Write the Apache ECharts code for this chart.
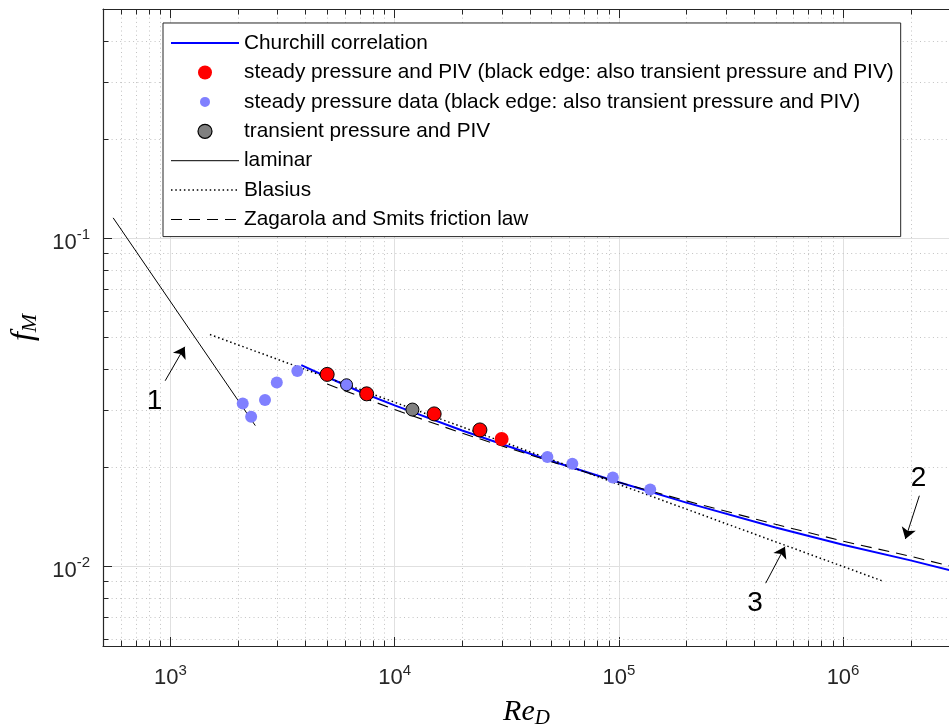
<!DOCTYPE html>
<html><head><meta charset="utf-8">
<script src="https://cdn.jsdelivr.net/npm/echarts@6/dist/echarts.min.js"></script>
<style>html,body{margin:0;padding:0;background:#fff}#c{width:949px;height:728px}</style>
</head><body><div id="c"></div>
<script>
// ---- data ----
const churchillRe = [3832, 5000, 7000, 10000, 20000, 50000, 100000, 200000, 500000, 1000000, 2000000, 3000000];
const churchillF  = [0.0410, 0.0377, 0.0340, 0.0309, 0.0259, 0.0209, 0.0180, 0.0156, 0.0131, 0.0116, 0.0104, 0.0097];

const redRe   = [5000, 7500, 15000, 24000, 30000];
const redF    = [0.0384, 0.0335, 0.0291, 0.0260, 0.0244];
const redAlsoTransient = [1, 1, 1, 1, 0];

const blueRe  = [2100, 2290, 2640, 2980, 3680, 6100, 48000, 62000, 94000, 138000];
const blueF   = [0.0313, 0.0285, 0.0321, 0.0363, 0.0393, 0.0357, 0.0215, 0.0205, 0.0186, 0.0171];
const blueAlsoTransient = [0, 0, 0, 0, 0, 1, 0, 0, 0, 0];

const grayRe  = [12000];
const grayF   = [0.0300];

const laminarRe = [555, 2390];
const laminarF  = [0.1153, 0.0268];

const blasiusRe = [1500, 1500000];
const blasiusF  = [0.0508, 0.0090];

const zsRe = [5000, 10000, 20000, 50000, 100000, 200000, 500000, 1000000, 2000000, 3000000];
const zsF  = [0.0359, 0.0300, 0.0254, 0.0208, 0.0180, 0.0158, 0.0134, 0.0119, 0.0107, 0.0100];

const seriesNames = [
  'Churchill correlation',
  'steady pressure and PIV (black edge: also transient pressure and PIV)',
  'steady pressure data (black edge: also transient pressure and PIV)',
  'transient pressure and PIV',
  'laminar',
  'Blasius',
  'Zagarola and Smits friction law'
];
const annotationTexts = ['1', '2', '3'];

const xMin = 500, xMax = 3e6, yMin = 0.0057, yMax = 0.5;

// ---- helpers ----
const zip = (a, b) => a.map((v, i) => [v, b[i]]);
function minorValues(lo, hi) {
  const out = [];
  for (let e = Math.floor(Math.log10(lo)); e <= Math.ceil(Math.log10(hi)); e++) {
    for (let m = 2; m <= 9; m++) {
      const v = m * Math.pow(10, e);
      if (v > lo * 1.0001 && v < hi * 0.9999) out.push(v);
    }
  }
  return out;
}
const xMinor = minorValues(xMin, xMax);
const yMinor = minorValues(yMin, yMax);

const AX = '#262626';
const FONT = 'Liberation Sans, Arial, Helvetica, sans-serif';
const SERIF = 'Liberation Serif, Times New Roman, serif';
const snap = v => Math.round(v) + 0.5;

const tickRich = {
  b: { fontSize: 22, fontFamily: FONT, color: AX, lineHeight: 30 },
  s: { fontSize: 15, fontFamily: FONT, color: AX, lineHeight: 18, verticalAlign: 'top' }
};
const powFmt = v => '{b|10}{s|' + Math.round(Math.log10(v)) + '}';

const scatterData = (xs, ys, flags) => xs.map((x, i) => flags && flags[i]
  ? { value: [x, ys[i]], itemStyle: { borderColor: '#000', borderWidth: 1 } }
  : { value: [x, ys[i]] });

const noSymbol = { color: 'rgba(0,0,0,0)', borderWidth: 0, opacity: 0 };

const chart = echarts.init(document.getElementById('c'), null, { renderer: 'canvas' });
chart.setOption({
  animation: false,
  backgroundColor: '#fff',
  grid: { left: 103, top: 9, width: 847, bottom: 82, containLabel: false, outerBoundsMode: 'none' },
  xAxis: [{
    type: 'log', min: xMin, max: xMax, position: 'bottom',
    axisLine: { show: true, lineStyle: { color: AX, width: 1.2 } },
    axisTick: { show: true, inside: true, length: 9, lineStyle: { color: AX, width: 1 } },
    axisLabel: { showMinLabel: false, showMaxLabel: false, margin: 17, formatter: powFmt, rich: tickRich },
    splitLine: { show: true, lineStyle: { color: '#e0e0e0', width: 1 } },
    name: '{i|Re}{sub|D}', nameLocation: 'middle', nameGap: 49,
    nameTextStyle: { rich: {
      i: { fontSize: 30, fontFamily: SERIF, fontStyle: 'italic', color: '#000', lineHeight: 34 },
      sub: { fontSize: 21, fontFamily: SERIF, fontStyle: 'italic', color: '#000', lineHeight: 34, verticalAlign: 'bottom' }
    } }
  }, {
    type: 'log', min: xMin, max: xMax, position: 'top',
    axisLine: { show: true, lineStyle: { color: AX, width: 1.2 } },
    axisTick: { show: true, inside: true, length: 9, lineStyle: { color: AX, width: 1 } },
    axisLabel: { show: false }, splitLine: { show: false }
  }],
  yAxis: [{
    type: 'log', min: yMin, max: yMax, position: 'left',
    axisLine: { show: true, lineStyle: { color: AX, width: 1.2 } },
    axisTick: { show: true, inside: true, length: 9, lineStyle: { color: AX, width: 1 } },
    axisLabel: { showMinLabel: false, showMaxLabel: false, margin: 13, padding: [9, 0, 0, 0], formatter: powFmt, rich: tickRich },
    splitLine: { show: true, lineStyle: { color: '#e0e0e0', width: 1 } },
    name: '{i|f}{sub|M}', nameLocation: 'middle', nameGap: 58, nameRotate: 90,
    nameTextStyle: { rich: {
      i: { fontSize: 32, fontFamily: SERIF, fontStyle: 'italic', color: '#000', lineHeight: 36 },
      sub: { fontSize: 22, fontFamily: SERIF, fontStyle: 'italic', color: '#000', lineHeight: 36, verticalAlign: 'bottom' }
    } }
  }],
  legend: {
    orient: 'vertical', left: 163, top: 23,
    padding: [9.6, 7, 6.6, 7],
    itemWidth: 68, itemHeight: 14, itemGap: 8.4,
    backgroundColor: '#fff', borderColor: AX, borderWidth: 1, borderRadius: 0,
    selectedMode: false,
    lineStyle: { width: 'inherit' },
    textStyle: { fontFamily: FONT, fontSize: 20.8, color: '#000', lineHeight: 20 },
    data: [
      { name: seriesNames[0], itemStyle: noSymbol },
      { name: seriesNames[1] },
      { name: seriesNames[2], itemStyle: { borderColor: '#fff', borderWidth: 4 } },
      { name: seriesNames[3], itemStyle: { borderColor: '#000', borderWidth: 1.2 } },
      { name: seriesNames[4], itemStyle: noSymbol },
      { name: seriesNames[5], itemStyle: noSymbol },
      { name: seriesNames[6], itemStyle: noSymbol }
    ]
  },
  series: [
    // minor x grid + minor ticks (bottom & top)
    {
      type: 'custom', name: 'xminor', silent: true, z: 1, clip: false,
      data: xMinor.map(v => [v, 0.01]),
      renderItem(params, api) {
        const cs = params.coordSys;
        const x = snap(api.coord([api.value(0), 0.01])[0]);
        const y0 = cs.y, y1 = cs.y + cs.height;
        return { type: 'group', children: [
          { type: 'line', shape: { x1: x, y1: y0, x2: x, y2: y1 }, style: { stroke: '#c2c2c2', lineWidth: 1, lineDash: [1, 3.3] } },
          { type: 'line', shape: { x1: x, y1: y1, x2: x, y2: y1 - 5.5 }, style: { stroke: AX, lineWidth: 1 } },
          { type: 'line', shape: { x1: x, y1: y0, x2: x, y2: y0 + 5.5 }, style: { stroke: AX, lineWidth: 1 } }
        ] };
      }
    },
    // minor y grid + minor ticks (left)
    {
      type: 'custom', name: 'yminor', silent: true, z: 1, clip: false,
      data: yMinor.map(v => [1000, v]),
      renderItem(params, api) {
        const cs = params.coordSys;
        const y = snap(api.coord([1000, api.value(1)])[1]);
        const x0 = cs.x, x1 = cs.x + cs.width;
        return { type: 'group', children: [
          { type: 'line', shape: { x1: x0, y1: y, x2: x1, y2: y }, style: { stroke: '#c2c2c2', lineWidth: 1, lineDash: [1, 3.3] } },
          { type: 'line', shape: { x1: x0, y1: y, x2: x0 + 5.5, y2: y }, style: { stroke: AX, lineWidth: 1 } }
        ] };
      }
    },
    {
      name: seriesNames[0], type: 'line', z: 3, symbol: 'none',
      data: zip(churchillRe, churchillF),
      itemStyle: { color: '#0000ff' },
      lineStyle: { color: '#0000ff', width: 2 }
    },
    {
      name: seriesNames[1], type: 'scatter', z: 6, symbolSize: 14,
      itemStyle: { color: '#ff0000', opacity: 1 },
      data: scatterData(redRe, redF, redAlsoTransient)
    },
    {
      name: seriesNames[2], type: 'scatter', z: 6, symbolSize: 12,
      itemStyle: { color: '#8080ff', opacity: 1 },
      data: scatterData(blueRe, blueF, blueAlsoTransient)
    },
    {
      name: seriesNames[3], type: 'scatter', z: 6, symbolSize: 13,
      itemStyle: { color: '#808080', borderColor: '#000', borderWidth: 1, opacity: 1 },
      data: zip(grayRe, grayF)
    },
    {
      name: seriesNames[4], type: 'line', z: 4, symbol: 'none',
      data: zip(laminarRe, laminarF),
      itemStyle: { color: '#000' },
      lineStyle: { color: '#000', width: 1 },
      markPoint: {
        silent: true, symbol: 'circle', symbolSize: 1, itemStyle: { color: 'rgba(0,0,0,0)' },
        label: { show: true, position: 'inside', formatter: p => p.name, fontFamily: FONT, fontSize: 28, color: '#000' },
        data: [
          { name: annotationTexts[0], coord: [848, 0.0317] },
          { name: annotationTexts[1], coord: [2170000, 0.01851] },
          { name: annotationTexts[2], coord: [404700, 0.00770] }
        ]
      },
      markLine: {
        silent: true, symbol: ['none', 'arrow'], symbolSize: 11,
        label: { show: false },
        lineStyle: { color: '#000', width: 1, type: 'solid' },
        itemStyle: { color: '#000' },
        data: [
          [{ coord: [947, 0.03673] }, { coord: [1158, 0.04662] }],
          [{ coord: [2190000, 0.01638] }, { coord: [1897000, 0.01209] }],
          [{ coord: [451700, 0.00886] }, { coord: [550800, 0.01145] }]
        ]
      }
    },
    {
      name: seriesNames[5], type: 'line', z: 4, symbol: 'none',
      data: zip(blasiusRe, blasiusF),
      itemStyle: { color: '#000' },
      lineStyle: { color: '#000', width: 1.5, type: [1.5, 2.8] }
    },
    {
      name: seriesNames[6], type: 'line', z: 4, symbol: 'none',
      data: zip(zsRe, zsF),
      itemStyle: { color: '#000' },
      lineStyle: { color: '#000', width: 1.1, type: [11, 7] }
    }
  ]
});
</script>
</body></html>
